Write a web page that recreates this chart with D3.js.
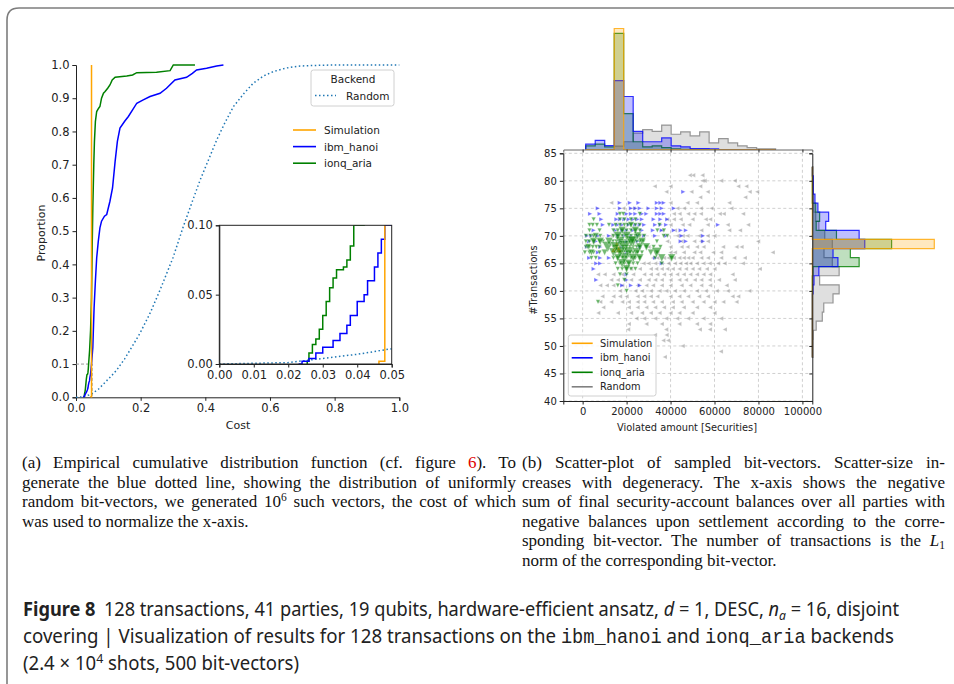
<!DOCTYPE html>
<html><head><meta charset="utf-8">
<script src="https://cdn.jsdelivr.net/npm/d3@7"></script>
<style>
body{margin:0;background:#fff}
svg text{font-family:"DejaVu Sans",sans-serif}
</style></head><body>
<svg id="fig" width="954" height="684"></svg>
<script>
// ---- panel (a): empirical CDFs, [cost, proportion] ----
var cdfSimulation = [[0.0463,0],[0.0463,0.002],[0.048,0.002],[0.048,1.0]];
var cdfIbm = [[0.023,0],[0.024,0.002],[0.026,0.004],[0.028,0.008],[0.030,0.012],[0.033,0.017],[0.035,0.022],
  [0.037,0.028],[0.038,0.035],[0.040,0.045],[0.042,0.050],[0.043,0.060],[0.045,0.070],[0.046,0.080],[0.047,0.090],
  [0.048,0.100],[0.052,0.15],[0.056,0.27],[0.060,0.35],[0.064,0.42],[0.069,0.47],[0.074,0.51],[0.079,0.53],
  [0.088,0.545],[0.095,0.55],[0.105,0.59],[0.113,0.63],[0.118,0.68],[0.121,0.71],[0.128,0.77],[0.136,0.81],
  [0.150,0.83],[0.162,0.845],[0.175,0.865],[0.188,0.885],[0.208,0.895],[0.229,0.905],[0.26,0.915],[0.28,0.93],
  [0.306,0.955],[0.342,0.963],[0.36,0.975],[0.373,0.985],[0.404,0.99],[0.435,0.997],[0.456,1.0]];
var cdfIonq = [[0.0255,0],[0.0255,0.002],[0.026,0.008],[0.027,0.014],[0.028,0.018],[0.029,0.025],[0.030,0.035],
  [0.031,0.045],[0.032,0.055],[0.033,0.062],[0.034,0.068],[0.036,0.070],[0.037,0.075],[0.038,0.085],[0.039,0.100],
  [0.042,0.14],[0.045,0.2],[0.048,0.3],[0.050,0.45],[0.052,0.57],[0.055,0.70],[0.057,0.77],[0.060,0.83],
  [0.064,0.86],[0.070,0.87],[0.074,0.875],[0.079,0.90],[0.085,0.915],[0.090,0.92],[0.098,0.93],[0.105,0.94],
  [0.112,0.955],[0.121,0.963],[0.157,0.967],[0.175,0.97],[0.188,0.977],[0.249,0.978],[0.291,0.983],[0.301,1.0],[0.368,1.0]];
var cdfRandom = [[0,0],[0.02,0.001],[0.03,0.004],[0.04,0.007],[0.05,0.011],[0.07,0.025],[0.09,0.045],[0.11,0.065],
  [0.126,0.082],[0.15,0.115],[0.175,0.155],[0.198,0.193],[0.23,0.255],[0.26,0.323],[0.30,0.42],[0.332,0.514],
  [0.36,0.59],[0.384,0.654],[0.41,0.715],[0.435,0.774],[0.46,0.825],[0.487,0.875],[0.52,0.915],[0.548,0.945],
  [0.58,0.967],[0.61,0.98],[0.65,0.991],[0.693,0.997],[0.75,0.999],[0.796,1.0],[1.0,1.0]];
var costTicks = [0, 0.2, 0.4, 0.6, 0.8, 1.0];
var propTicks = [0, 0.1, 0.2, 0.3, 0.4, 0.5, 0.6, 0.7, 0.8, 0.9, 1.0];
var insetCostTicks = [0, 0.01, 0.02, 0.03, 0.04, 0.05];
var insetPropTicks = [0, 0.05, 0.10];

// ---- panel (b): scatter rows [#transactions, [violated amount in thousands]] ----
var scatterRandom = [
  [81,[48.8,50.3,54.5]],[80,[54.6,55.5,63,69.2]],[79,[32.8,40,53.5,70.8,74.5]],[78,[38.1,49.5,56.9,76,79.4]],
  [77,[53.5,74]],[76,[13,40,47.7,52,66.7]],[75,[18.5,23.1,43.1,46.1,53.8,58.6,67.7]],
  [74,[41.5,44.1,48,50.8,53.8,62.4,64.2,73]],[73,[38.5,41.5,44.6,50,56,58]],[72,[40,45.5,48.5,56.9,66,75.3]],
  [71,[36,42,54,66.7,71.6]],[70,[13,43.1,45.5,47.7,53,56.9,60]],[69,[38.5,45,50.8,53.8,57,79.8]],
  [68,[30,40,45,47.7,52,55,63.9,70,72.3]],[67,[34,40,42,46,50.8,53.5,59.4,63,86.5]],
  [66,[23,32,34,37,39,41.5,44,46,48,50,54,57,63,69,73.8]],
  [65,[27.7,30,33,36,39,42,44.5,47,49,52,55,57.8,61.6,64.6,72.9]],
  [64,[22,26,31,33.5,36,38.5,41,44,47,50,53,56.5,60,80.6]],
  [63,[7,10,14,18,23,28,31,34,37,40,43,46,49,52,55,58,68.2]],
  [62,[13,16,19,22,26,30,33,36,40,44,47,51,54,57.8,62,69.2]],
  [61,[8,11,14,18,25,29,32,36,40,45,49,54,58,65.5]],
  [60,[17,24,27,31,35,38,42,46,52,56,61,66,75.8]],
  [59,[9,14,17,20,25,28,31,34,40,44,48,53,57,68.2,70.8]],
  [58,[8,13,18,21,25,28,32,36,41,45,50,55,60,64,70]],
  [57,[9.4,21,25,29,33,37,41,46,52,58]],[56,[7.1,16,22,27,31,35,40,44,50,60]],
  [55,[24.5,28,33,38,43,48,55,63]],[54,[21,29,36,44,52,58]],[53,[20.7,38,53.3,57.9,64.7]],
  [52,[32.9,38.2]],[51,[36.7,38.9]],[50,[45.5]],[49,[62.9]],[48,[37.4]]];
var scatterIbm = [
  [78,[45.8]],[76,[16.9,21.5,25.4,33.8,35.4,36.9]],[75,[6.9,17,22,24,26,30,33.8,36,41.5]],
  [74,[3.4,7.7,16,20,22,24,27,29,33.8,35.4,37]],[73,[8.5,15.4,17,19,21,23,25,27,32.3,35.4,38.5]],
  [72,[9.2,14,16,18,21,24,26,28,33,35.4,38,61.6]],[71,[5,15,18,20,23,27,32,36,41.5,44.6,47]],
  [70,[2,4,7,12,16,19,22,25,28,33,38,45,54.8]],[69,[3,6,17,20,25,44.6,47,54.8]],[68,[2,8,18,26]],
  [67,[7,20]],[66,[3,8,12,33]],[65,[6.2,8,36]],[64,[5]],[63,[20]],[62,[6.2,20]],[61,[18,22,26]]];
var scatterIonq = [
  [74,[17,18.5,26]],[73,[5,17,19,22,24]],[72,[3.1,4.6,6.5,12,15,17,19,20.5,22,24,26,35]],
  [71,[3.1,7.7,14,16,18,20,22,24,26,34,37]],[70,[1.5,3.5,5,8,14,16,18,20,22,24,26,28,36.9,38.5]],
  [69,[1.5,3,5,7.7,9.2,13.8,15.4,17,18.5,20,21.5,23,24.6,26,27.7,33.8]],
  [68,[1.5,3.1,4.6,6.2,7.7,14,15.4,17,18.5,20,21.5,23,24.6,26,29,32.3,35.4]],
  [67,[1,3.1,5,7.7,15,17,18.5,20,21.5,23,25,27,33.8]],[66,[4,6,14,16,18,20,22,24,26,33,40.5]],
  [65,[15,17,19,21,23,25,36]],[64,[16,18,20,22,24]],[63,[17,20]],[62,[19]],[61,[16]],[60,[20]],[58,[7]]];
// degenerate bit-vectors: [amount in thousands, #transactions, multiplicity]
var ionqRepeated = [[11.4,68,6],[17,69,5],[19,68,8],[21,67,6],[23,69,5],[20,70,4],[24.6,67,4],
  [33.6,67,5],[40.5,66,3],[8,69,3],[14,67,4],[26,68,3],[16,70,4],[18,71,3],[22,69,6],[15,68,5],
  [25,70,3],[27,69,3],[19,66,5],[23,66,4],[21,65,3],[17,67,6],[12,69,3],[5,69,3],[4,67,2],[29,68,3],[36,66,3],
  [18,65,4],[20,64,3],[16,66,3],[24,71,3],[22,72,2],[6,70,2],[2.5,68,2],[10,67,2],[26,66,3],[31,67,2]];
var simulationRepeated = [[15.5,68,6]];
var amountTicks = [0, 20000, 40000, 60000, 80000, 100000];
var txTicks = [40, 45, 50, 55, 60, 65, 70, 75, 80, 85];

// marginal histograms (counts per bin)
var amountBinStart = 1404, amountBinWidth = 4320;
var amountHistSimulation = [0,0,0,500,0,0,0,0,0,0,0,0,0,0,0,0,0,0,0,0];
var amountHistIbm = [22,38,16,285,219,75,32,32,48,15,11,4,4,3,0,0,0,0,0,0];
var amountHistIonq = [15,22,11,480,148,32,11,15,8,3,1,0,0,0,0,0,0,0,0,0];
var amountHistRandom = [0,0,0,14,32,68,82,75,101,63,73,56,73,27,45,27,15,8,3,3];
var txBinStart = 47.9, txBinWidth = 1.65;
var txHistSimulation = [0,0,0,0,0,0,0,0,0,0,0,0,500,0,0,0,0,0,0,0,0];
var txHistIbm = [0,0,0,0,0,0,0,3,7,27,105,85,215,192,55,67,23,11,4,4,0];
var txHistIonq = [0,0,0,0,0,0,0,0,0,3,192,156,325,99,16,30,14,0,0,0,0];
var txHistRandom = [3,3,4,16,41,47,85,110,30,110,82,48,82,51,27,14,7,5,4,4,3];

var seriesNames = ["Simulation", "ibm_hanoi", "ionq_aria", "Random"];
var colors = {Simulation: "#ffa500", ibm_hanoi: "#0000ff", ionq_aria: "#008000", Random: "#808080"};

var svg = d3.select("#fig");

// outer frame
svg.append("path").attr("d", "M7,684V20Q7,8 19,8H954")
  .attr("fill", "none").attr("stroke", "#7d7d7d").attr("stroke-width", 1.6);

function styleAxis(g, size) {
  g.select(".domain").attr("stroke", "#222").attr("stroke-width", 1);
  g.selectAll(".tick line").attr("stroke", "#222");
  g.selectAll(".tick text").attr("fill", "#222").style("font-size", size + "px");
}

// ================= panel (a) =================
var xa = d3.scaleLinear().domain([0, 1]).range([76, 399.3]);
var ya = d3.scaleLinear().domain([0, 1]).range([397.3, 65]);
var ga = svg.append("g");

ga.append("g").attr("transform", "translate(0,397.3)")
  .call(d3.axisBottom(xa).tickValues(costTicks).tickFormat(d3.format(".1f")).tickSizeOuter(0).tickSize(3.5).tickPadding(3))
  .call(styleAxis, 11.5);
ga.append("g").attr("transform", "translate(76,0)")
  .call(d3.axisLeft(ya).tickValues(propTicks).tickFormat(d3.format(".1f")).tickSizeOuter(0).tickSize(3.5).tickPadding(3))
  .call(styleAxis, 11.5);
ga.append("text").attr("x", 238).attr("y", 429).attr("text-anchor", "middle").style("font-size", "11px").attr("fill", "#222").text("Cost");
ga.append("text").attr("transform", "translate(45,233) rotate(-90)").attr("text-anchor", "middle").style("font-size", "11px").attr("fill", "#222").text("Proportion");

function lineA(xs, ys, curve) {
  return d3.line().x(function (d) { return xs(d[0]); }).y(function (d) { return ys(d[1]); }).curve(curve);
}
// zoom-region marker
ga.append("path").attr("d", "M" + xa(0) + "," + ya(0.1) + "H" + xa(0.05) + "V" + ya(0))
  .attr("fill", "none").attr("stroke", "#999").attr("stroke-dasharray", "3,2").attr("stroke-width", 1);

ga.append("path").datum(cdfRandom).attr("d", lineA(xa, ya, d3.curveLinear))
  .attr("fill", "none").attr("stroke", "#1f77b4").attr("stroke-width", 1.5).attr("stroke-dasharray", "1.5,2.5");
ga.append("path").datum(cdfIonq).attr("d", lineA(xa, ya, d3.curveLinear))
  .attr("fill", "none").attr("stroke", colors.ionq_aria).attr("stroke-width", 1.5);
ga.append("path").datum(cdfIbm).attr("d", lineA(xa, ya, d3.curveLinear))
  .attr("fill", "none").attr("stroke", colors.ibm_hanoi).attr("stroke-width", 1.5);
ga.append("path").datum(cdfSimulation).attr("d", lineA(xa, ya, d3.curveLinear))
  .attr("fill", "none").attr("stroke", colors.Simulation).attr("stroke-width", 1.5);

// legend "Backend"
ga.append("rect").attr("x", 311).attr("y", 70).attr("width", 83).attr("height", 36).attr("rx", 2.5)
  .attr("fill", "#fff").attr("fill-opacity", 0.85).attr("stroke", "#d0d0d0");
ga.append("text").attr("x", 353).attr("y", 83).attr("text-anchor", "middle").style("font-size", "10.5px").attr("fill", "#222").text("Backend");
ga.append("line").attr("x1", 315).attr("x2", 336).attr("y1", 95.5).attr("y2", 95.5)
  .attr("stroke", "#1f77b4").attr("stroke-width", 1.5).attr("stroke-dasharray", "1.5,2.5");
ga.append("text").attr("x", 346).attr("y", 99.5).style("font-size", "10.5px").attr("fill", "#222").text("Random");

// legend backends
seriesNames.slice(0, 3).forEach(function (name, i) {
  var y = 130 + i * 16.6;
  ga.append("line").attr("x1", 293).attr("x2", 316).attr("y1", y).attr("y2", y)
    .attr("stroke", colors[name]).attr("stroke-width", 1.6);
  ga.append("text").attr("x", 324).attr("y", y + 4).style("font-size", "10.5px").attr("fill", "#222").text(name);
});

// inset
var xi = d3.scaleLinear().domain([0, 0.05]).range([219.3, 391.7]);
var yi = d3.scaleLinear().domain([0, 0.1]).range([364, 225.3]);
var gi = svg.append("g");
gi.append("rect").attr("x", 219.3).attr("y", 225.3).attr("width", 172.4).attr("height", 138.7).attr("fill", "#fff");
svg.append("clipPath").attr("id", "insetClip").append("rect")
  .attr("x", 219.3).attr("y", 225.3).attr("width", 172.4).attr("height", 138.7);
var gil = gi.append("g").attr("clip-path", "url(#insetClip)");
gil.append("path").datum(cdfRandom).attr("d", lineA(xi, yi, d3.curveLinear))
  .attr("fill", "none").attr("stroke", "#1f77b4").attr("stroke-width", 1.5).attr("stroke-dasharray", "1.5,2.5");
gil.append("path").datum(cdfIonq).attr("d", lineA(xi, yi, d3.curveStepAfter))
  .attr("fill", "none").attr("stroke", colors.ionq_aria).attr("stroke-width", 1.5);
gil.append("path").datum(cdfIbm).attr("d", lineA(xi, yi, d3.curveStepAfter))
  .attr("fill", "none").attr("stroke", colors.ibm_hanoi).attr("stroke-width", 1.5);
gil.append("path").datum(cdfSimulation).attr("d", lineA(xi, yi, d3.curveStepAfter))
  .attr("fill", "none").attr("stroke", colors.Simulation).attr("stroke-width", 1.5);
gi.append("rect").attr("x", 219.3).attr("y", 225.3).attr("width", 172.4).attr("height", 138.7)
  .attr("fill", "none").attr("stroke", "#222").attr("stroke-width", 1);
gi.append("g").attr("transform", "translate(0,364)")
  .call(d3.axisBottom(xi).tickValues(insetCostTicks).tickFormat(d3.format(".2f")).tickSizeOuter(0).tickSize(3.5).tickPadding(3))
  .call(styleAxis, 11.5);
gi.append("g").attr("transform", "translate(219.3,0)")
  .call(d3.axisLeft(yi).tickValues(insetPropTicks).tickFormat(d3.format(".2f")).tickSizeOuter(0).tickSize(3.5).tickPadding(3))
  .call(styleAxis, 11.5);

// ================= panel (b) =================
var xb = d3.scaleLinear().domain([-8800, 104500]).range([563.3, 812.3]);
var yb = d3.scaleLinear().domain([40, 85]).range([401, 153.3]);
var gb = svg.append("g");

// grid
gb.selectAll("line.gx").data(amountTicks).enter().append("line")
  .attr("x1", function (d) { return xb(d); }).attr("x2", function (d) { return xb(d); })
  .attr("y1", 153.3).attr("y2", 401).attr("stroke", "#c4c4c4").attr("stroke-dasharray", "3,2.5").attr("stroke-width", 0.8);
gb.selectAll("line.gy").data(txTicks).enter().append("line")
  .attr("y1", function (d) { return yb(d); }).attr("y2", function (d) { return yb(d); })
  .attr("x1", 563.3).attr("x2", 812.3).attr("stroke", "#c4c4c4").attr("stroke-dasharray", "3,2.5").attr("stroke-width", 0.8);

function triangle(cx, cy, r, dir) {
  var p;
  if (dir === "up") p = [[0, -r], [-r, r], [r, r]];
  else if (dir === "down") p = [[0, r], [-r, -r], [r, -r]];
  else if (dir === "right") p = [[r, 0], [-r, -r], [-r, r]];
  else p = [[-r, 0], [r, -r], [r, r]];
  return "M" + p.map(function (q) { return (cx + q[0]).toFixed(2) + "," + (cy + q[1]).toFixed(2); }).join("L") + "Z";
}
function flatten(rows) {
  var out = [];
  rows.forEach(function (r) { r[1].forEach(function (x) { out.push([x, r[0], 1]); }); });
  return out;
}
svg.append("clipPath").attr("id", "scatterClip").append("rect")
  .attr("x", 563.3).attr("y", 153.3).attr("width", 249).attr("height", 247.7);
var gs = gb.append("g").attr("clip-path", "url(#scatterClip)");
function drawMarkers(points, color, dir, opacity) {
  gs.append("g").selectAll("path").data(points).enter().append("path")
    .attr("d", function (d) { return triangle(xb(d[0] * 1000), yb(d[1]), 2.2 * Math.sqrt(d[2]), dir); })
    .attr("fill", color).attr("fill-opacity", opacity)
    .attr("stroke", "#fff").attr("stroke-width", 0.3);
}
drawMarkers(flatten(scatterRandom), colors.Random, "left", 0.5);
drawMarkers(flatten(scatterIbm), colors.ibm_hanoi, "right", 0.55);
drawMarkers(simulationRepeated, colors.Simulation, "up", 0.9);
drawMarkers(flatten(scatterIonq), colors.ionq_aria, "down", 0.6);
drawMarkers(ionqRepeated, colors.ionq_aria, "down", 0.55);

gb.append("g").attr("transform", "translate(0,401)")
  .call(d3.axisBottom(xb).tickValues(amountTicks).tickFormat(d3.format("d")).tickSizeOuter(0).tickSize(3.5).tickPadding(3))
  .call(styleAxis, 10);
gb.append("g").attr("transform", "translate(563.3,0)")
  .call(d3.axisLeft(yb).tickValues(txTicks).tickSizeOuter(0).tickSize(3.5).tickPadding(3))
  .call(styleAxis, 10);
gb.append("text").attr("x", 687).attr("y", 431).attr("text-anchor", "middle").style("font-size", "9.8px").attr("fill", "#222").text("Violated amount [Securities]");
gb.append("text").attr("transform", "translate(537,280) rotate(-90)").attr("text-anchor", "middle").style("font-size", "9.8px").attr("fill", "#222").text("#Transactions");

// marginal histograms
var cTop = d3.scaleLinear().domain([0, 500]).range([149.5, 28.5]);
var cRight = d3.scaleLinear().domain([0, 500]).range([812.3, 934.3]);
function stepPoints(counts, start, width) {
  var pts = [[start, 0]];
  counts.forEach(function (c, i) { pts.push([start + i * width, c]); pts.push([start + (i + 1) * width, c]); });
  pts.push([start + counts.length * width, 0]);
  return pts;
}
var topSeries = [[amountHistRandom, "Random"], [amountHistIonq, "ionq_aria"], [amountHistIbm, "ibm_hanoi"], [amountHistSimulation, "Simulation"]];
var rightSeries = [[txHistRandom, "Random"], [txHistIonq, "ionq_aria"], [txHistIbm, "ibm_hanoi"], [txHistSimulation, "Simulation"]];
topSeries.forEach(function (s) {
  var pts = stepPoints(s[0], amountBinStart, amountBinWidth);
  gb.append("path").datum(pts)
    .attr("d", d3.line().x(function (d) { return xb(d[0]); }).y(function (d) { return cTop(d[1]); }))
    .attr("fill", colors[s[1]]).attr("fill-opacity", 0.25)
    .attr("stroke", colors[s[1]]).attr("stroke-opacity", 0.8).attr("stroke-width", 1.2);
});
rightSeries.forEach(function (s) {
  var pts = stepPoints(s[0], txBinStart, txBinWidth);
  gb.append("path").datum(pts)
    .attr("d", d3.line().x(function (d) { return cRight(d[1]); }).y(function (d) { return yb(d[0]); }))
    .attr("fill", colors[s[1]]).attr("fill-opacity", 0.25)
    .attr("stroke", colors[s[1]]).attr("stroke-opacity", 0.8).attr("stroke-width", 1.2);
});
// marginal baselines with ticks
gb.append("g").attr("transform", "translate(0,149.5)")
  .call(d3.axisBottom(xb).tickValues(amountTicks).tickFormat("").tickSizeOuter(0).tickSize(3))
  .call(styleAxis, 9).select(".domain").attr("stroke", "#666");
gb.append("g").attr("transform", "translate(812.3,0)")
  .call(d3.axisLeft(yb).tickValues(txTicks).tickFormat("").tickSizeOuter(0).tickSize(3))
  .call(styleAxis, 9);

// scatter legend
gb.append("rect").attr("x", 568.3).attr("y", 335).attr("width", 87.7).attr("height", 61).attr("rx", 2.5)
  .attr("fill", "#fff").attr("fill-opacity", 0.85).attr("stroke", "#d0d0d0");
seriesNames.forEach(function (name, i) {
  var y = 343.3 + i * 14.5;
  gb.append("line").attr("x1", 571.7).attr("x2", 592.7).attr("y1", y).attr("y2", y)
    .attr("stroke", colors[name]).attr("stroke-width", 1.6);
  gb.append("text").attr("x", 600).attr("y", y + 3.5).style("font-size", "9.8px").attr("fill", "#222").text(name);
});

// ================= captions =================
var serif = "'Liberation Serif','DejaVu Serif',serif";
function capLine(x, y, width, parts) {
  var t = svg.append("text").attr("x", x).attr("y", y).style("font-family", serif).style("font-size", "17px").attr("fill", "#111");
  parts.forEach(function (p) {
    var s = t.append("tspan").text(p.t);
    if (p.fill) s.attr("fill", p.fill);
    if (p.dy) s.attr("dy", p.dy);
    if (p.small) s.style("font-size", "11.5px");
    if (p.it) s.style("font-style", "italic");
  });
  if (width) {
    // justify by stretching the word gaps
    var natural = t.node().getComputedTextLength();
    var gaps = (t.text().match(/ /g) || []).length;
    if (gaps) t.style("word-spacing", ((width - natural) / gaps) + "px");
  }
  return t;
}
capLine(22, 468, 494, [{t: "(a) Empirical cumulative distribution function (cf. figure "}, {t: "6", fill: "#e00000"}, {t: "). To"}]);
capLine(22, 487.5, 494, [{t: "generate the blue dotted line, showing the distribution of uniformly"}]);
capLine(22, 507, 494, [{t: "random bit-vectors, we generated 10"}, {t: "6", dy: -6, small: true}, {t: " such vectors, the cost of which", dy: 6}]);
capLine(22, 526.5, 0, [{t: "was used to normalize the x-axis."}]);

capLine(522, 468, 423, [{t: "(b) Scatter-plot of sampled bit-vectors. Scatter-size in-"}]);
capLine(522, 487.5, 423, [{t: "creases with degeneracy. The x-axis shows the negative"}]);
capLine(522, 507, 423, [{t: "sum of final security-account balances over all parties with"}]);
capLine(522, 526.5, 423, [{t: "negative balances upon settlement according to the corre-"}]);
capLine(522, 546, 423, [{t: "sponding bit-vector. The number of transactions is the "}, {t: "L", it: true}, {t: "1", dy: 3, small: true}]);
capLine(522, 565.5, 0, [{t: "norm of the corresponding bit-vector."}]);

function figLine(y, width, parts) {
  var t = svg.append("text").attr("x", 23).attr("y", y).style("font-family", "'Noto Sans','DejaVu Sans',sans-serif")
    .style("font-size", "19.5px").attr("fill", "#222").attr("textLength", width).attr("lengthAdjust", "spacingAndGlyphs");
  parts.forEach(function (p) {
    var s = t.append("tspan").text(p.t);
    if (p.b) s.style("font-weight", "bold");
    if (p.it) s.style("font-style", "italic");
    if (p.mono) s.style("font-family", "'Liberation Mono','DejaVu Sans Mono',monospace");
    if (p.dy) s.attr("dy", p.dy);
    if (p.dx) s.attr("dx", p.dx);
    if (p.small) s.style("font-size", "13px");
  });
}
figLine(616, 876, [{t: "Figure 8", b: true}, {t: "128 transactions, 41 parties, 19 qubits, hardware-efficient ansatz, ", dx: 9}, {t: "d", it: true},
  {t: " = 1, DESC, "}, {t: "n", it: true}, {t: "a", it: true, small: true, dy: 4}, {t: " = 16, disjoint", dy: -4}]);
figLine(643, 871, [{t: "covering | Visualization of results for 128 transactions on the "}, {t: "ibm_hanoi", mono: true},
  {t: " and "}, {t: "ionq_aria", mono: true}, {t: " backends"}]);
figLine(670, 276, [{t: "(2.4 × 10"}, {t: "4", small: true, dy: -7}, {t: " shots, 500 bit-vectors)", dy: 7}]);
</script>
</body></html>
